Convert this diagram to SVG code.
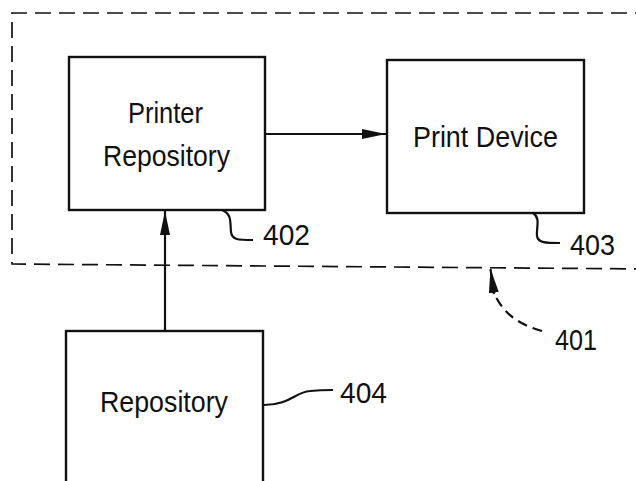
<svg xmlns="http://www.w3.org/2000/svg" width="636" height="481" viewBox="0 0 636 481">
<style>
.box{fill:#fff;stroke:#111;stroke-width:2.4}
.lbl{font-family:"Liberation Sans",Arial,sans-serif;font-size:30px;fill:#111}
.num{font-family:"Liberation Sans",Arial,sans-serif;font-size:30px;fill:#111}
.ln{fill:none;stroke:#111;stroke-width:2.2}
.dash{fill:none;stroke:#111;stroke-width:1.7;stroke-dasharray:16 8}
</style>
<defs>
<marker id="ah" markerWidth="24" markerHeight="12" viewBox="0 0 24 12" refX="24" refY="6" orient="auto" markerUnits="userSpaceOnUse">
<path d="M0,1 L24,6 L0,11 Z" fill="#111"/>
</marker>
</defs>
<rect width="636" height="481" fill="#fff"/>
<g id="group-401">
<path class="dash" d="M650,269 L12,264 L12,13 L650,13"/>
</g>
<g id="node-402">
<rect class="box" x="69" y="57" width="196" height="153"/>
<text class="lbl" x="128" y="123" textLength="75" lengthAdjust="spacingAndGlyphs">Printer</text>
<text class="lbl" x="103" y="166" textLength="127" lengthAdjust="spacingAndGlyphs">Repository</text>
</g>
<g id="node-403">
<rect class="box" x="387" y="60" width="197" height="153"/>
<text class="lbl" x="413" y="147" textLength="145" lengthAdjust="spacingAndGlyphs">Print Device</text>
</g>
<g id="node-404">
<rect class="box" x="66" y="331" width="197" height="170"/>
<text class="lbl" x="100" y="412" textLength="128" lengthAdjust="spacingAndGlyphs">Repository</text>
</g>
<g id="connectors">
<line class="ln" x1="265" y1="134" x2="386" y2="134" marker-end="url(#ah)"/>
<line class="ln" x1="165" y1="331" x2="165" y2="211" marker-end="url(#ah)"/>
</g>
<g id="labels">
<path class="ln" d="M222,210 C232,214 230,222 231,232 C232,240 238,240 253,240"/>
<text class="num" x="263" y="245" textLength="47" lengthAdjust="spacingAndGlyphs">402</text>
<path class="ln" d="M533,213 C541,218 536,228 537,236 C538,243 546,243 560,243"/>
<text class="num" x="570" y="255" textLength="45" lengthAdjust="spacingAndGlyphs">403</text>
<path class="ln" d="M264,405 C290,405 295,392 310,391 C320,390 326,390 333,390"/>
<text class="num" x="340" y="403" textLength="47" lengthAdjust="spacingAndGlyphs">404</text>
<path class="ln" d="M542,331 C525,326 505,318 494,293" stroke-dasharray="10 6"/>
<line class="ln" x1="494" y1="294" x2="490.5" y2="269" marker-end="url(#ah)"/>
<text class="num" x="555" y="350" textLength="42" lengthAdjust="spacingAndGlyphs">401</text>
</g>
</svg>
